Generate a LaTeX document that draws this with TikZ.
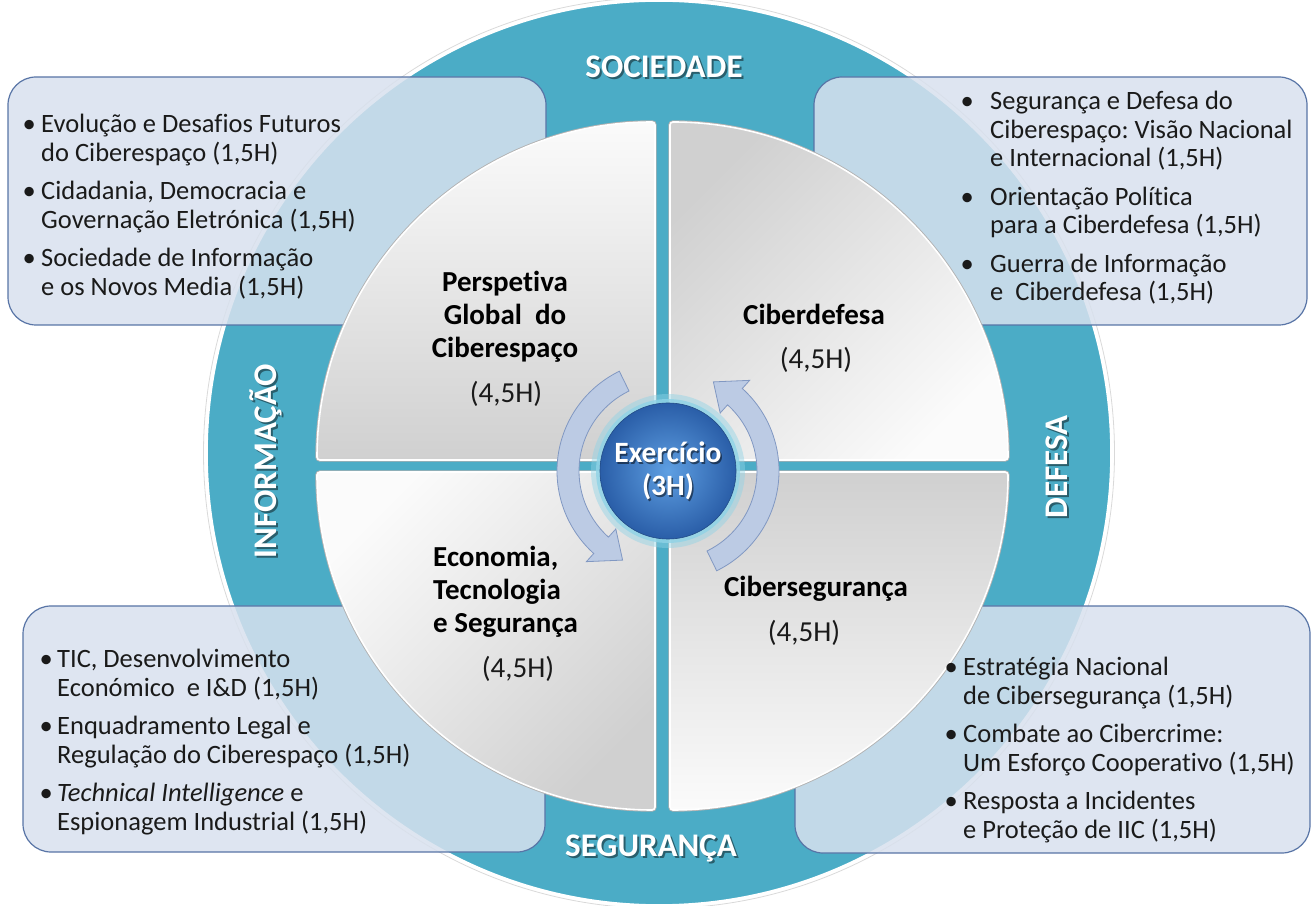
\documentclass[tikz,border=0pt]{standalone}
\usepackage{fontspec}
\setmainfont{Carlito}[Ligatures=NoCommon]
\frenchspacing
\definecolor{ringteal}{HTML}{4BACC6}
\definecolor{boxfill}{RGB}{216,225,238}
\definecolor{boxline}{RGB}{88,116,166}
\definecolor{quadlight}{HTML}{FBFBFB}
\definecolor{quaddark}{HTML}{D0D0D0}
\definecolor{exinner}{HTML}{5E9FE2}
\definecolor{exouter}{HTML}{2A5EA8}
\definecolor{exglow}{HTML}{8FD3E6}
\definecolor{arrowfill}{HTML}{BCCBE4}
\definecolor{arrowline}{HTML}{8198C2}
\definecolor{bodytext}{HTML}{1A1A1A}
\newcommand{\bul}[1]{\makebox[#1][l]{\textbullet}}
\begin{document}
\begin{tikzpicture}[x=1pt, y=1pt,
    listbox/.style={fill=boxfill, fill opacity=0.85, draw=boxline, line width=1.2pt, rounded corners=28pt},
    quad/.style={preaction={draw=black!30, line width=3.4pt}, draw=white, line width=1.6pt, rounded corners=3pt},
    ringlabel/.style={text=white, font=\fontsize{33}{33}\selectfont\bfseries},
    ringshadow/.style={text=black, text opacity=0.45, font=\fontsize{33}{33}\selectfont\bfseries},
    quadtitle/.style={font=\fontsize{29}{33}\selectfont\bfseries, text=black},
    quadhours/.style={font=\fontsize{29}{33}\selectfont, text=bodytext},
    bullets/.style={font=\fontsize{26.5}{28.5}\selectfont, text=bodytext, anchor=base west},
    cyclearrow/.style={fill=arrowfill, draw=arrowline, line width=0.8pt},
    exball/.style={circle, minimum size=136pt, inner color=exinner, outer color=exouter, draw=exouter!80!black, line width=0.6pt},
    extext/.style={font=\fontsize{29.5}{33}\selectfont\bfseries, align=center},
  ]
  \tikzstyle{every node}+=[inner sep=0pt]
  \useasboundingbox (0,0) rectangle (1314,905);

  % teal ring
  \draw[black!15, line width=0.8pt] (659,452) circle (455.5);
  \fill[ringteal] (659,452) circle (452);
  \draw[white, line width=1.6pt] (659,452) circle (452);

  % topic boxes
  \draw[listbox] (8,580) rectangle (546,828);
  \draw[listbox] (814,580) rectangle (1307,828);
  \draw[listbox] (23,53) rectangle (545,299);
  \draw[listbox] (795,52) rectangle (1310,299);

  % quadrants
  \shadedraw[quad, top color=quadlight, bottom color=quaddark] (655,445) -- ++(-338,0) arc[start angle=180, end angle=90, radius=338] -- cycle;
  \shadedraw[quad, top color=quaddark, bottom color=quadlight, shading angle=45] (670,445) -- ++(0,338) arc[start angle=90, end angle=0, radius=338] -- cycle;
  \shadedraw[quad, top color=quadlight, bottom color=quaddark, shading angle=45] (655,433) -- ++(0,-338) arc[start angle=270, end angle=180, radius=338] -- cycle;
  \shadedraw[quad, top color=quaddark, bottom color=quadlight] (670,433) -- ++(338,0) arc[start angle=0, end angle=-90, radius=338] -- cycle;

  % cycle arrows and exercise
  \coordinate (exc) at (668,434);
  \begin{scope}[shift={(exc)}]
    \filldraw[cyclearrow] (116:111) arc[start angle=116, end angle=228, radius=111] -- (228:122) -- (243:100) -- (228:78) -- (228:89) arc[start angle=228, end angle=116, radius=89] -- cycle;
    \filldraw[cyclearrow] (296:111) arc[start angle=296, end angle=408, radius=111] -- (408:122) -- (423:100) -- (408:78) -- (408:89) arc[start angle=408, end angle=296, radius=89] -- cycle;
  \end{scope}
  \fill[exglow, opacity=0.45] (exc) circle (77);
  \fill[exglow, opacity=0.8] (exc) circle (72);
  \node[exball] (ex) at (exc) {};
  \node[extext, text=black, text opacity=0.5] (ex-sh) at ([shift={(1.5,-1.5)}]ex.center) {Exercício\\(3H)};
  \node[extext, text=white] (ex-txt) at (ex.center) {Exercício\\(3H)};

  % ring labels
  \node[ringshadow] (soc-sh) at (666,836) {SOCIEDADE};
  \node[ringlabel] (soc) at (664,838) {SOCIEDADE};
  \node[ringshadow] (seg-sh) at (653,55) {SEGURANÇA};
  \node[ringlabel] (seg) at (651,57) {SEGURANÇA};
  \node[ringshadow, rotate=90] (inf-sh) at (268,442) {INFORMAÇÃO};
  \node[ringlabel, rotate=90] (inf) at (266,444) {INFORMAÇÃO};
  \node[ringshadow, rotate=90] (def-sh) at (1059,436) {DEFESA};
  \node[ringlabel, rotate=90] (def) at (1057,438) {DEFESA};

  % quadrant titles
  \node[quadtitle, anchor=base] (persp) at (505,613) {\begin{tabular}[t]{@{}c@{}}Perspetiva\\Global~~do\\Ciberespaço\end{tabular}};
  \node[quadhours] (persp-h) at (506,511) {(4,5H)};
  \node[quadtitle] (cdef) at (814,591) {Ciberdefesa};
  \node[quadhours] (cdef-h) at (816,545) {(4,5H)};
  \node[quadtitle, anchor=base west] (econ) at (433,338) {\begin{tabular}[t]{@{}l@{}}Economia,\\Tecnologia\\e Segurança\end{tabular}};
  \node[quadhours] (econ-h) at (518,236) {(4,5H)};
  \node[quadtitle] (cseg) at (816,316) {Cibersegurança};
  \node[quadhours] (cseg-h) at (804,272) {(4,5H)};

  % topic lists
  \node[bullets] (soc-list) at (22.5,772) {\begin{tabular}[t]{@{}l@{}l@{}}
    \bul{18.5pt} & Evolução e Desafios Futuros\\
    & do Ciberespaço (1,5H)\\[10pt]
    \bul{18.5pt} & Cidadania, Democracia e\\
    & Governação Eletrónica (1,5H)\\[10pt]
    \bul{18.5pt} & Sociedade de Informação\\
    & e os Novos Media (1,5H)
  \end{tabular}};
  \node[bullets] (def-list) at (960.5,795) {\begin{tabular}[t]{@{}l@{}l@{}}
    \bul{29.5pt} & Segurança e Defesa do\\
    & Ciberespaço: Visão Nacional\\
    & e Internacional (1,5H)\\[10pt]
    \bul{29.5pt} & Orientação Política\\
    & para a Ciberdefesa (1,5H)\\[10pt]
    \bul{29.5pt} & Guerra de Informação\\
    & e~ Ciberdefesa (1,5H)
  \end{tabular}};
  \node[bullets] (inf-list) at (39.5,237) {\begin{tabular}[t]{@{}l@{}l@{}}
    \bul{17.5pt} & TIC, Desenvolvimento\\
    & Económico~ e I\&D (1,5H)\\[10pt]
    \bul{17.5pt} & Enquadramento Legal e\\
    & Regulação do Ciberespaço (1,5H)\\[10pt]
    \bul{17.5pt} & \textit{Technical Intelligence} e\\
    & Espionagem Industrial (1,5H)
  \end{tabular}};
  \node[bullets] (seg-list) at (944.5,229) {\begin{tabular}[t]{@{}l@{}l@{}}
    \bul{18.5pt} & Estratégia Nacional\\
    & de Cibersegurança (1,5H)\\[10pt]
    \bul{18.5pt} & Combate ao Cibercrime:\\
    & Um Esforço Cooperativo (1,5H)\\[10pt]
    \bul{18.5pt} & Resposta a Incidentes\\
    & e Proteção de IIC (1,5H)
  \end{tabular}};
\end{tikzpicture}
\end{document}
